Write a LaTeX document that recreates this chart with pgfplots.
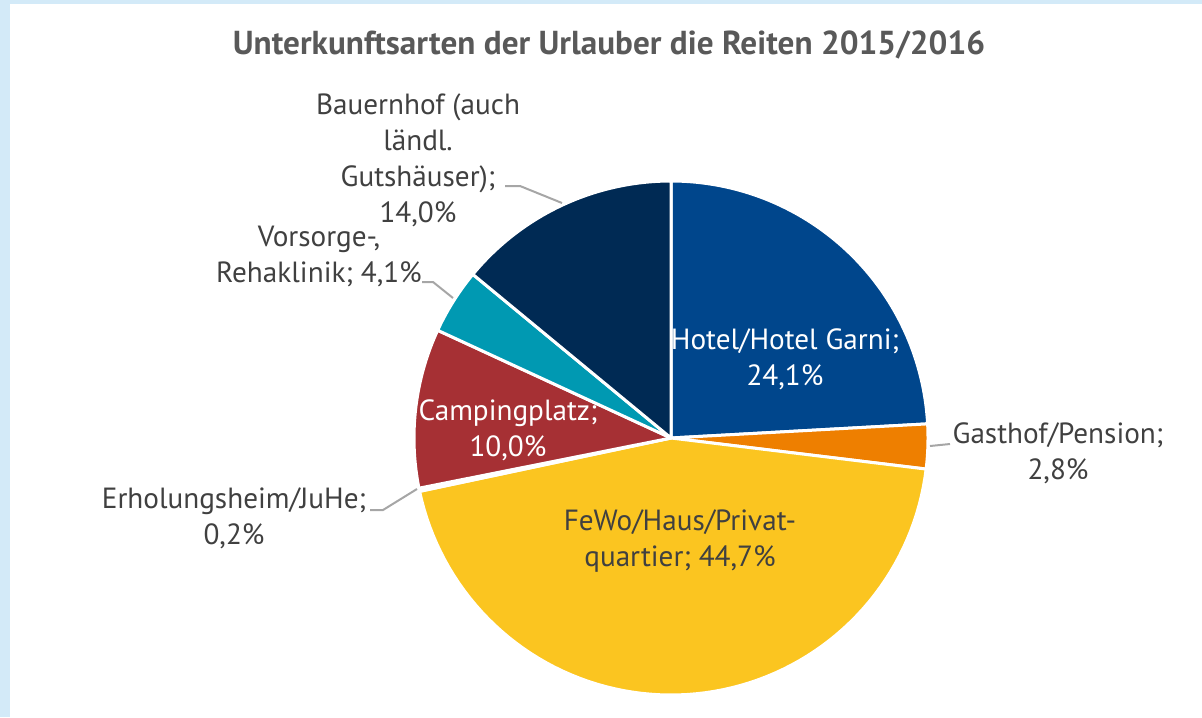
\documentclass[border=0pt]{standalone}
\usepackage{pgfplots}
\pgfplotsset{compat=1.18}
\usepackage{fontspec}
\setmainfont{PT Sans}
\definecolor{cHotel}{HTML}{00468C}
\definecolor{cGast}{HTML}{EE7F00}
\definecolor{cFeWo}{HTML}{FBC520}
\definecolor{cErh}{HTML}{7F7F7F}
\definecolor{cCamp}{HTML}{A63034}
\definecolor{cVor}{HTML}{0099B2}
\definecolor{cBauer}{HTML}{002A54}
\definecolor{bgblue}{HTML}{D3EAF8}
\definecolor{txt}{HTML}{404040}
\definecolor{ttl}{HTML}{595959}
\definecolor{lead}{HTML}{A6A6A6}
% values (percent)
\def\vHotel{24.1}
\def\vGast{2.8}
\def\vFeWo{44.7}
\def\vErh{0.2}
\def\vCamp{10.0}
\def\vVor{4.1}
\def\vBauer{14.0}
\begin{document}
\begin{tikzpicture}
\pgfmathsetmacro\tot{\vHotel+\vGast+\vFeWo+\vErh+\vCamp+\vVor+\vBauer}
\pgfmathsetmacro\aA{90}
\pgfmathsetmacro\aB{\aA-360*\vHotel/\tot}
\pgfmathsetmacro\aC{\aB-360*\vGast/\tot}
\pgfmathsetmacro\aD{\aC-360*\vFeWo/\tot}
\pgfmathsetmacro\aE{\aD-360*\vErh/\tot}
\pgfmathsetmacro\aF{\aE-360*\vCamp/\tot}
\pgfmathsetmacro\aG{\aF-360*\vVor/\tot}
\pgfmathsetmacro\aH{\aG-360*\vBauer/\tot}
\begin{axis}[
  scale only axis, width=601pt, height=358.5pt,
  xmin=0, xmax=1202, ymin=0, ymax=717, y dir=reverse,
  hide axis, clip=false,
  every axis plot/.append style={draw=white, line width=1.5pt, samples=80, line join=round},
]
\fill[bgblue] (axis cs:0,0) rectangle (axis cs:1202,4);
\fill[bgblue] (axis cs:0,0) rectangle (axis cs:10,717);
\addplot[fill=cHotel, domain=\aB:\aA] ({671+257*cos(x)},{438-257*sin(x)}) -- (axis cs:671,438) -- cycle;
\addplot[fill=cGast, domain=\aC:\aB] ({671+257*cos(x)},{438-257*sin(x)}) -- (axis cs:671,438) -- cycle;
\addplot[fill=cFeWo, domain=\aD:\aC] ({671+257*cos(x)},{438-257*sin(x)}) -- (axis cs:671,438) -- cycle;
\addplot[fill=cErh, domain=\aE:\aD, samples=5] ({671+257*cos(x)},{438-257*sin(x)}) -- (axis cs:671,438) -- cycle;
\addplot[fill=cCamp, domain=\aF:\aE] ({671+257*cos(x)},{438-257*sin(x)}) -- (axis cs:671,438) -- cycle;
\addplot[fill=cVor, domain=\aG:\aF] ({671+257*cos(x)},{438-257*sin(x)}) -- (axis cs:671,438) -- cycle;
\addplot[fill=cBauer, domain=\aH:\aG] ({671+257*cos(x)},{438-257*sin(x)}) -- (axis cs:671,438) -- cycle;
% leader lines
\draw[lead, line width=1pt] (axis cs:505,186) -- (axis cs:520,186) -- (axis cs:562,203);
\draw[lead, line width=1pt] (axis cs:422,282) -- (axis cs:433,282) -- (axis cs:453,298);
\draw[lead, line width=1pt] (axis cs:930,446) -- (axis cs:950,444);
\draw[lead, line width=1pt] (axis cs:370,510) -- (axis cs:383,510) -- (axis cs:417,489);
% title
\node[ttl, font=\bfseries\fontsize{16.6}{20}\selectfont] at (axis cs:609,45) {Unterkunftsarten der Urlauber die Reiten 2015/2016};
% labels
\begin{scope}[every node/.style={font=\fontsize{14.6}{18}\selectfont, align=center, inner sep=0pt}]
\node[txt] at (axis cs:418,160) {Bauernhof (auch\\ländl.\\Gutshäuser);\\14,0\%};
\node[txt] at (axis cs:319,256) {Vorsorge-,\\Rehaklinik; 4,1\%};
\node[white] at (axis cs:508,430) {Campingplatz;\\10,0\%};
\node[white] at (axis cs:785,359) {Hotel/Hotel Garni;\\24,1\%};
\node[txt] at (axis cs:1058,453) {Gasthof/Pension;\\2,8\%};
\node[txt] at (axis cs:234,518) {Erholungsheim/JuHe;\\0,2\%};
\node[txt] at (axis cs:680,541) {FeWo/Haus/Privat-\\quartier; 44,7\%};
\end{scope}
\end{axis}
\end{tikzpicture}
\end{document}
